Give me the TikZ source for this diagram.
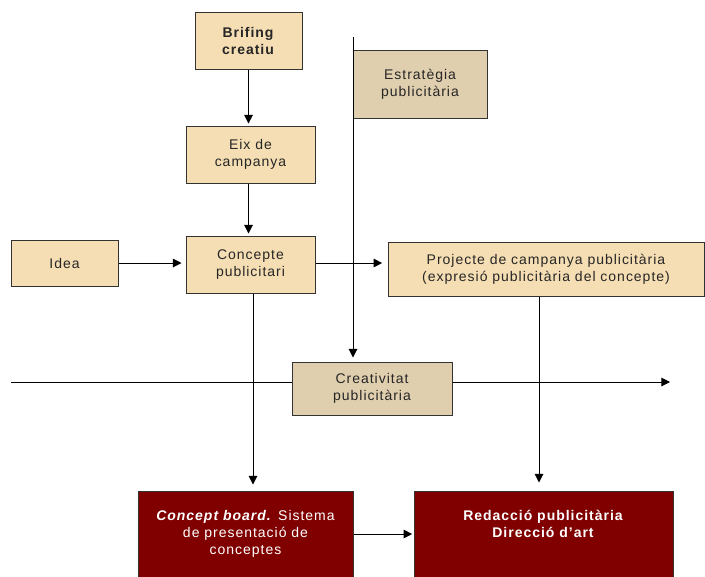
\documentclass[tikz,border=0pt]{standalone}
\usepackage{fontspec}
\setmainfont{Liberation Sans}[LetterSpace=7]
\usetikzlibrary{arrows.meta}
\definecolor{lighttan}{HTML}{F5DEB3}
\definecolor{darktan}{HTML}{E0CFAE}
\definecolor{maroonbox}{HTML}{800000}
\definecolor{edge}{HTML}{333333}
\begin{document}
\begin{tikzpicture}[x=0.75pt,y=-0.75pt,
  txt/.style={font=\fontsize{10.5}{12.75}\selectfont, text=black!85, align=center},
  lbox/.style={draw=edge, line width=0.75pt, fill=lighttan, txt, inner sep=0pt},
  dbox/.style={draw=edge, line width=0.75pt, fill=darktan, txt, inner sep=0pt},
  rbox/.style={draw=edge, line width=0.75pt, fill=maroonbox, inner sep=0pt},
  wtxt/.style={font=\fontsize{10.5}{12.75}\selectfont, text=white, align=center, inner sep=0pt},
  conn/.style={draw=black, line width=0.75pt},
  arr/.style={conn, -{Triangle[length=6.5pt,width=6.5pt]}}
]
\useasboundingbox (0,0) rectangle (705,576);
\clip (0,0) rectangle (705,576);

\node[lbox, minimum width={107*0.75pt}, minimum height={57*0.75pt}] (brif) at (248.5,40.5) {\textbf{Brifing}\\\textbf{creatiu}};
\node[lbox, minimum width={129*0.75pt}, minimum height={57*0.75pt}] (eix) at (250.5,154.5) {Eix de\\campanya};
\node[lbox, minimum width={107*0.75pt}, minimum height={46*0.75pt}] (idea) at (64.5,263) {Idea};
\node[lbox, minimum width={129*0.75pt}, minimum height={57*0.75pt}] (conc) at (250.5,264.5) {Concepte\\publicitari};
\node[dbox, minimum width={134*0.75pt}, minimum height={68*0.75pt}] (estr) at (420,84) {Estratègia\\publicitària};
\node[lbox, minimum width={316*0.75pt}, minimum height={54*0.75pt}] (proj) at (546,269) {Projecte de campanya publicitària\\(expresió publicitària del concepte)};
\node[dbox, minimum width={160*0.75pt}, minimum height={53*0.75pt}] (creat) at (372,388.5) {Creativitat\\publicitària};
\node[rbox, minimum width={215*0.75pt}, minimum height={109*0.75pt}] (board) at (245.5,545.5) {};
\node[rbox, minimum width={259*0.75pt}, minimum height={109*0.75pt}] (redac) at (543.5,545.5) {};
\node[wtxt, anchor=north] (boardtxt) at (245.5,510) {\textbf{\textit{Concept board.}} Sistema\\de presentació de\\conceptes};
\node[wtxt, anchor=north] (redactxt) at (543.5,510) {\textbf{Redacció publicitària}\\\textbf{Direcció d’art}};

\coordinate (stop) at (353,37);
\coordinate (hl) at (11,382);
\coordinate (hr) at (670,382);
\coordinate (cby) at (0,534);

% connectors
\draw[arr, shorten >=1.5pt] (brif) -- (brif.south |- eix.north);
\draw[arr, shorten >=1.5pt] (brif.south |- eix.south) -- (brif.south |- conc.north);
\draw[arr, shorten >=3pt] (idea.east) -- (idea.east -| conc.west);
\draw[arr, shorten >=4pt] (conc.east |- idea.east) -- (idea.east -| proj.west);
\draw[arr, shorten >=3pt] (stop) -- (stop |- creat.north);
\draw[conn] (hl) -- (hl -| creat.west);
\draw[arr] (hr -| creat.east) -- (hr);
\draw[arr, shorten >=4.5pt] ([xshift=2.5*0.75pt]conc.south) -- ([xshift=2.5*0.75pt]conc.south |- board.north);
\draw[arr, shorten >=6pt] ([xshift=-7*0.75pt]proj.south) -- ([xshift=-7*0.75pt]proj.south |- redac.north);
\draw[arr, shorten >=1pt] (board.east |- cby) -- (redac.west |- cby);
\end{tikzpicture}
\end{document}
